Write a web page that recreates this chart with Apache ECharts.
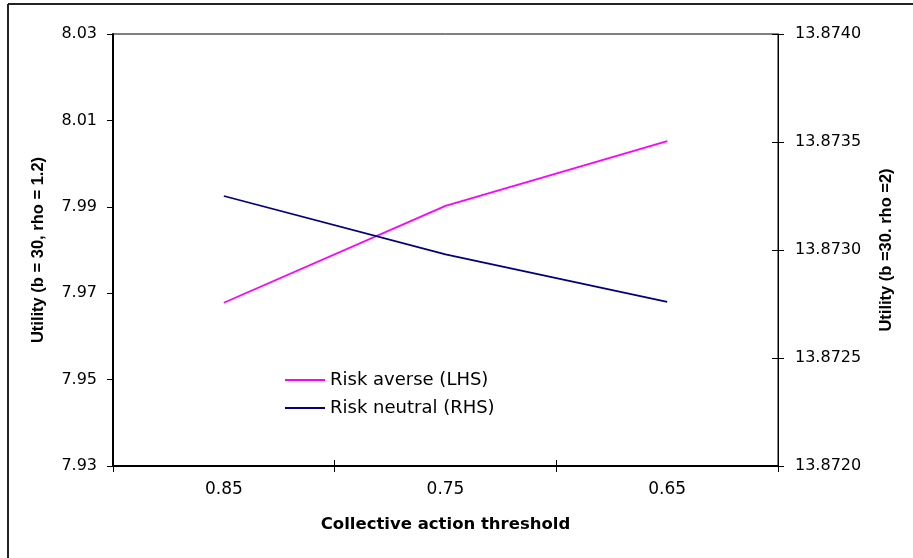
<!DOCTYPE html>
<html>
<head>
<meta charset="utf-8">
<script src="https://cdn.jsdelivr.net/npm/echarts@6/dist/echarts.min.js"></script>
<style>
html,body{margin:0;padding:0;background:#fff;}
#chart{width:913px;height:558px;}
</style>
</head>
<body>
<div id="chart"></div>
<script>
const categories = ['0.85', '0.75', '0.65'];
const riskAverse = [7.9678, 7.9902, 8.0052];
const riskNeutral = [13.87325, 13.87298, 13.87276];
const leftTicks = { min: 7.93, max: 8.03, interval: 0.02 };
const rightTicks = { min: 13.872, max: 13.874, interval: 0.0005 };

const chart = echarts.init(document.getElementById('chart'));
const wide = 'DejaVu Sans, Verdana, sans-serif';
const arial = 'Liberation Sans, Arial, sans-serif';
chart.setOption({
  animation: false,
  backgroundColor: '#fff',
  graphic: [
    { type: 'line', shape: { x1: 8, y1: 4, x2: 913, y2: 4 }, style: { stroke: '#222', lineWidth: 2 } },
    { type: 'line', shape: { x1: 8, y1: 4, x2: 8, y2: 558 }, style: { stroke: '#222', lineWidth: 2 } }
  ],
  grid: { left: 113, right: 135, top: 34, bottom: 92, show: true, borderColor: '#000', borderWidth: 1, backgroundColor: '#fff' },
  legend: {
    orient: 'vertical', left: 280, top: 366, itemWidth: 40, itemHeight: 2, itemGap: 10,
    icon: 'rect',
    textStyle: { fontFamily: wide, fontSize: 18, color: '#000' },
    data: ['Risk averse (LHS)', 'Risk neutral (RHS)']
  },
  xAxis: [{
    type: 'category', data: categories, boundaryGap: true, position: 'bottom',
    name: 'Collective action threshold', nameLocation: 'middle', nameGap: 50,
    nameTextStyle: { fontFamily: wide, fontSize: 16.5, fontWeight: 'bold', color: '#000' },
    axisLine: { show: true, lineStyle: { color: '#000', width: 2 } },
    axisTick: { show: true, interval: 0, length: 6, lineStyle: { color: '#000' } },
    axisLabel: { fontFamily: wide, fontSize: 17, color: '#000', margin: 15 },
    splitLine: { show: false }
  }, {
    type: 'category', data: categories, boundaryGap: true, position: 'bottom',
    axisLine: { show: false },
    axisTick: { show: true, inside: true, interval: 0, length: 6, lineStyle: { color: '#000' } },
    axisLabel: { show: false }, splitLine: { show: false }
  }],
  yAxis: [{
    type: 'value', position: 'left', min: leftTicks.min, max: leftTicks.max, interval: leftTicks.interval,
    name: 'Utility (b = 30, rho = 1.2)', nameLocation: 'middle', nameGap: 66,
    nameTextStyle: { fontFamily: arial, fontSize: 16.5, fontWeight: 'bold', color: '#000' },
    axisLine: { show: true, lineStyle: { color: '#000', width: 2 } },
    axisTick: { show: true, length: 6, lineStyle: { color: '#000' } },
    axisLabel: { fontFamily: wide, fontSize: 16, color: '#000', margin: 16, formatter: v => v.toFixed(2) },
    splitLine: { show: false }
  }, {
    type: 'value', position: 'right', min: rightTicks.min, max: rightTicks.max, interval: rightTicks.interval,
    name: 'Utility (b =30. rho =2)', nameLocation: 'middle', nameGap: 100,
    nameTextStyle: { fontFamily: arial, fontSize: 16.5, fontWeight: 'bold', color: '#000' },
    axisLine: { show: true, lineStyle: { color: '#000', width: 1 } },
    axisTick: { show: true, length: 6, lineStyle: { color: '#000' } },
    axisLabel: { fontFamily: wide, fontSize: 16, color: '#000', margin: 17, formatter: v => v.toFixed(4) },
    splitLine: { show: false }
  }, {
    type: 'value', position: 'right', min: rightTicks.min, max: rightTicks.max, interval: rightTicks.interval,
    axisLine: { show: false },
    axisTick: { show: true, inside: true, length: 6, lineStyle: { color: '#000' } },
    axisLabel: { show: false }, splitLine: { show: false }
  }],
  series: [{
    name: 'Risk averse (LHS)', type: 'line', data: riskAverse, yAxisIndex: 0,
    symbol: 'none', lineStyle: { color: '#FF00FF', width: 1.8 }, itemStyle: { color: '#FF00FF' }
  }, {
    name: 'Risk neutral (RHS)', type: 'line', data: riskNeutral, yAxisIndex: 1,
    symbol: 'none', lineStyle: { color: '#000080', width: 1.8 }, itemStyle: { color: '#000080' }
  }]
});
</script>
</body>
</html>
